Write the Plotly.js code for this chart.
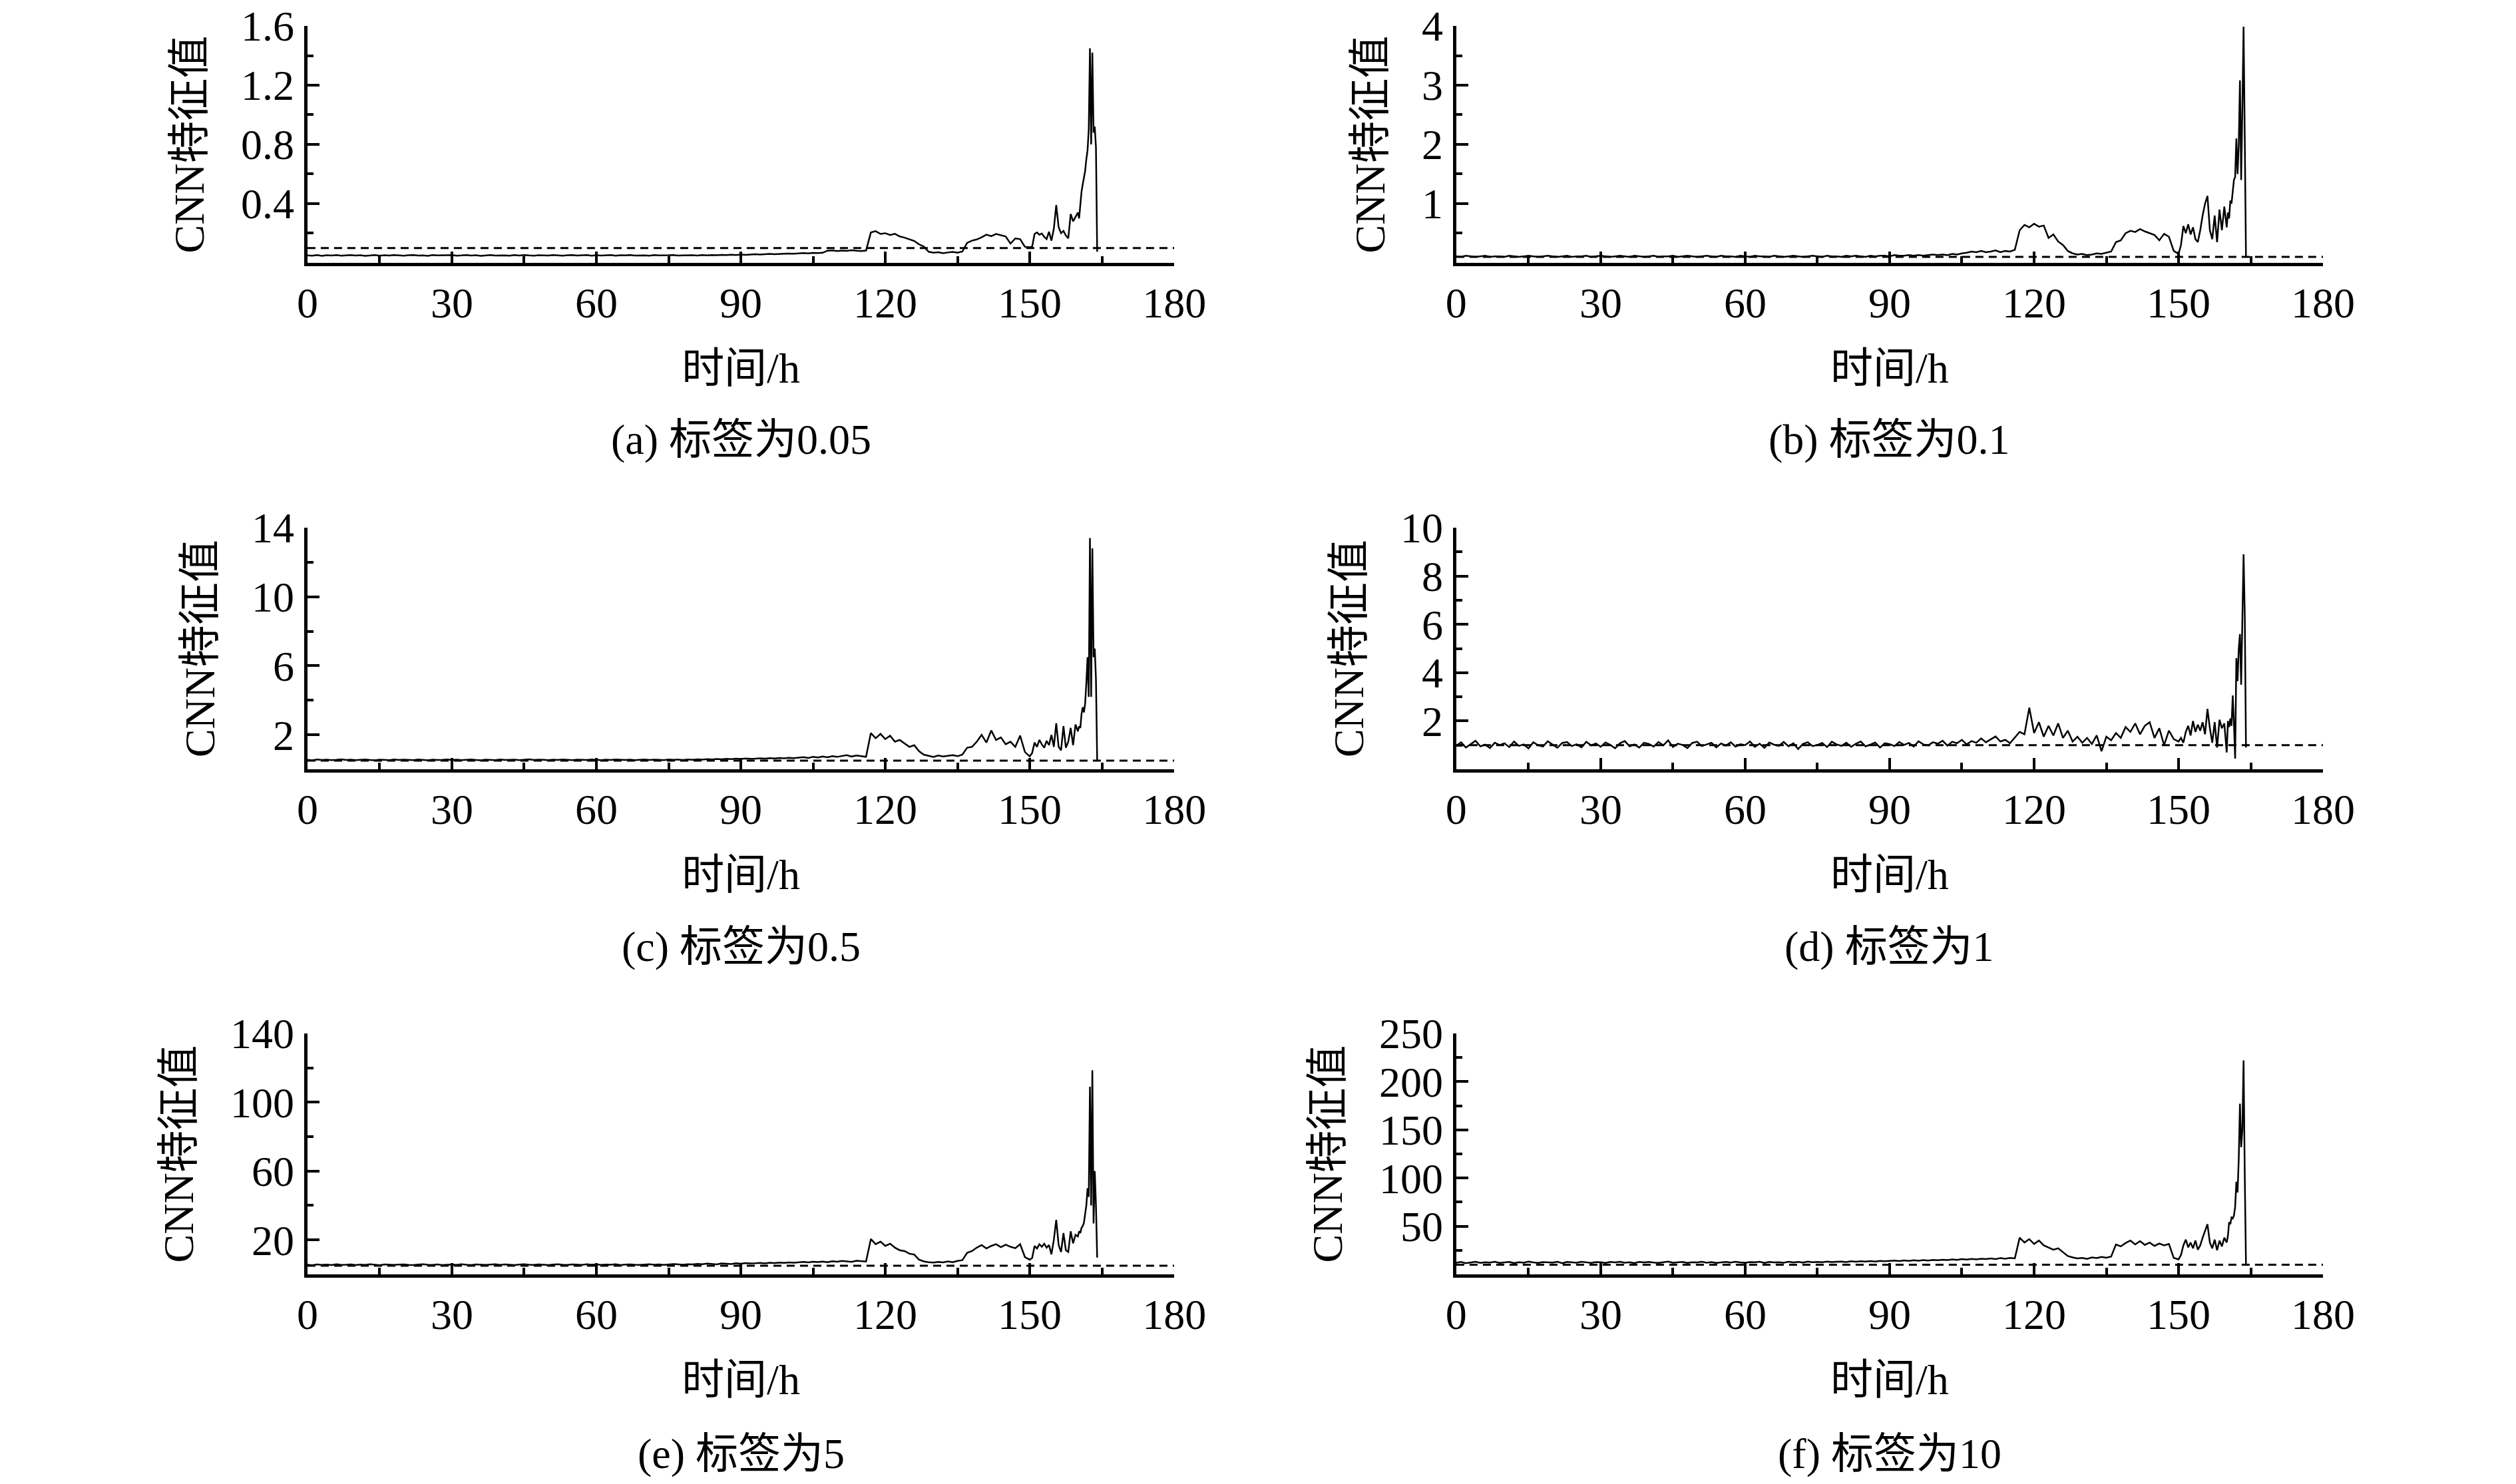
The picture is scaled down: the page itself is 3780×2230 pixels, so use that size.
<!DOCTYPE html>
<html>
<head>
<meta charset="utf-8">
<script src="https://cdn.plot.ly/plotly-3.0.1.min.js"></script>
<style>
  html, body { margin: 0; padding: 0; background: #fff; }
  #chart { width: 3780px; height: 2230px; }
</style>
</head>
<body>
<div id="chart"></div>
<script>
// ==========================================================
// DATA
// ==========================================================

// time axis, hours
const hours = [
  0,1,2,3,4,5,6,7,8,9,
  10,11,12,13,14,15,16,17,18,19,
  20,21,22,23,24,25,26,27,28,29,
  30,31,32,33,34,35,36,37,38,39,
  40,41,42,43,44,45,46,47,48,49,
  50,51,52,53,54,55,56,57,58,59,
  60,61,62,63,64,65,66,67,68,69,
  70,71,72,73,74,75,76,77,78,79,
  80,81,82,83,84,85,86,87,88,89,
  90,91,92,93,94,95,96,97,98,99,
  100,101,102,103,104,105,106,107,108,109,
  110,111,112,113,114,115,116,117,118,119,
  120,121,122,123,124,125,126,127,128,129,
  130,131,132,133,134,135,136,137,138,139,
  140,141,142,143,144,145,146,147,148,149,
  150,
  150.5,151,151.5,152,152.5,153,153.5,154,154.5,155,
  155.5,156,156.5,157,157.5,158,158.5,159,159.5,160,
  160.25,160.5,160.75,161,161.25,161.5,161.75,162,
  162.25,162.5,162.75,163,163.25,163.5,163.75,164
];

// (a) label 0.05
const featA = [
  0.050,0.048,0.052,0.047,0.051,0.049,0.053,0.048,0.050,0.052,
  0.049,0.051,0.047,0.050,0.053,0.048,0.051,0.049,0.052,0.050,
  0.048,0.051,0.053,0.049,0.050,0.047,0.052,0.050,0.049,0.051,
  0.052,0.048,0.050,0.053,0.049,0.051,0.047,0.050,0.052,0.049,
  0.051,0.050,0.048,0.052,0.049,0.053,0.050,0.048,0.051,0.050,
  0.049,0.052,0.050,0.048,0.051,0.053,0.049,0.050,0.052,0.048,
  0.051,0.049,0.050,0.053,0.048,0.051,0.050,0.052,0.049,0.051,
  0.050,0.048,0.052,0.050,0.049,0.051,0.053,0.049,0.050,0.052,
  0.051,0.049,0.052,0.050,0.053,0.051,0.054,0.052,0.055,0.053,
  0.056,0.054,0.057,0.058,0.056,0.059,0.060,0.058,0.061,0.062,
  0.063,0.061,0.064,0.066,0.064,0.067,0.066,0.068,0.082,0.084,
  0.080,0.083,0.081,0.085,0.082,0.080,0.083,0.205,0.214,0.195,
  0.200,0.188,0.196,0.178,0.170,0.160,0.148,0.125,0.110,0.075,
  0.068,0.072,0.065,0.070,0.074,0.068,0.076,0.135,0.150,0.158,
  0.172,0.190,0.180,0.195,0.185,0.178,0.130,0.165,0.160,0.108,
  0.105,
  0.110,0.195,0.205,0.190,0.198,0.175,0.160,0.210,0.150,0.230,
  0.390,0.240,0.200,0.215,0.185,0.165,0.330,0.280,0.310,0.340,
  0.300,0.410,0.480,0.530,0.580,0.620,0.700,0.760,
  0.900,1.450,0.800,1.420,0.880,0.920,0.780,0.075
];

// (b) label 0.1
const featB = [
  0.11,0.10,0.12,0.11,0.10,0.11,0.12,0.10,0.11,0.11,
  0.10,0.12,0.11,0.10,0.11,0.12,0.11,0.10,0.11,0.12,
  0.11,0.10,0.11,0.12,0.10,0.11,0.11,0.12,0.10,0.11,
  0.12,0.11,0.10,0.11,0.12,0.11,0.10,0.12,0.11,0.10,
  0.11,0.12,0.10,0.11,0.11,0.12,0.10,0.11,0.12,0.11,
  0.10,0.11,0.12,0.11,0.10,0.12,0.11,0.11,0.10,0.12,
  0.11,0.10,0.12,0.11,0.11,0.10,0.12,0.11,0.10,0.11,
  0.12,0.11,0.10,0.11,0.12,0.11,0.10,0.12,0.11,0.11,
  0.10,0.12,0.11,0.12,0.11,0.10,0.12,0.11,0.12,0.12,
  0.11,0.13,0.12,0.12,0.13,0.12,0.13,0.12,0.13,0.14,
  0.13,0.14,0.13,0.15,0.14,0.16,0.17,0.19,0.18,0.20,
  0.18,0.19,0.21,0.18,0.20,0.19,0.22,0.55,0.64,0.60,
  0.66,0.61,0.63,0.42,0.48,0.36,0.30,0.20,0.16,0.14,
  0.15,0.13,0.14,0.16,0.15,0.17,0.19,0.35,0.38,0.50,
  0.54,0.52,0.57,0.53,0.50,0.47,0.38,0.49,0.44,0.20,
  0.15,
  0.30,0.62,0.50,0.65,0.48,0.60,0.40,0.35,0.55,0.80,
  1.00,1.13,0.55,0.40,0.80,0.35,0.90,0.55,0.95,0.60,
  0.85,0.75,1.05,1.00,1.25,1.40,1.45,2.10,
  1.50,2.00,3.08,1.40,2.60,3.99,2.10,0.11
];

// (c) label 0.5
const featC = [
  0.55,0.52,0.57,0.54,0.56,0.53,0.55,0.58,0.54,0.56,
  0.53,0.55,0.57,0.54,0.52,0.56,0.55,0.53,0.57,0.54,
  0.56,0.54,0.53,0.57,0.55,0.52,0.56,0.54,0.55,0.57,
  0.54,0.56,0.53,0.55,0.57,0.54,0.52,0.56,0.55,0.53,
  0.57,0.54,0.55,0.56,0.53,0.55,0.58,0.54,0.56,0.55,
  0.53,0.56,0.54,0.57,0.55,0.53,0.56,0.55,0.54,0.57,
  0.55,0.53,0.56,0.54,0.57,0.55,0.54,0.56,0.53,0.55,
  0.57,0.54,0.56,0.55,0.53,0.57,0.55,0.56,0.54,0.57,
  0.55,0.58,0.56,0.59,0.57,0.60,0.58,0.61,0.59,0.62,
  0.60,0.63,0.61,0.62,0.64,0.62,0.65,0.63,0.66,0.64,
  0.67,0.65,0.68,0.70,0.66,0.72,0.69,0.74,0.70,0.76,
  0.72,0.78,0.82,0.74,0.80,0.76,0.72,2.10,1.80,2.05,
  1.75,1.95,1.60,1.70,1.50,1.30,1.40,1.05,0.85,0.78,
  0.72,0.80,0.74,0.78,0.82,0.76,0.85,1.25,1.30,1.60,
  2.00,1.55,2.25,1.70,1.85,1.45,1.60,1.30,1.95,1.00,
  0.75,
  0.95,1.55,1.30,1.70,1.45,1.25,1.65,1.40,2.00,1.30,
  2.67,1.30,1.10,2.50,1.25,1.60,2.40,1.40,2.60,2.20,
  2.50,2.40,3.20,3.60,3.30,3.80,5.00,6.50,
  4.20,13.40,4.20,12.80,6.50,7.00,5.20,0.49
];

// (d) label 1
const featD = [
  0.98,1.12,0.90,1.05,1.18,0.95,1.02,0.88,1.10,1.00,
  1.08,0.92,1.15,0.97,1.03,0.86,1.12,1.00,0.94,1.16,
  1.02,0.89,1.09,1.13,0.96,1.04,0.91,1.14,0.99,1.07,
  0.93,1.11,1.01,0.87,1.08,1.17,0.95,1.03,0.90,1.10,
  1.05,0.94,1.13,0.99,1.20,0.92,1.06,1.01,0.88,1.09,
  1.14,0.96,1.03,1.10,0.91,1.07,0.98,1.12,0.94,1.04,
  1.00,1.15,0.93,1.06,0.89,1.11,1.02,0.97,1.13,0.95,
  1.08,0.84,1.05,1.12,0.96,1.01,1.09,0.92,1.14,1.03,
  0.97,1.10,0.93,1.06,1.15,0.95,1.02,1.11,0.90,1.08,
  1.04,0.96,1.13,1.01,1.09,0.94,1.16,1.03,0.99,1.12,
  1.06,1.18,0.98,1.14,1.08,1.22,1.03,1.17,1.10,1.28,
  1.12,1.25,1.36,1.15,1.22,1.08,1.30,1.55,1.45,2.55,
  1.50,1.95,1.35,1.80,1.40,1.90,1.30,1.60,1.15,1.35,
  1.10,1.30,1.05,1.40,0.75,1.35,1.20,1.50,1.30,1.75,
  1.55,1.90,1.45,1.80,1.95,1.30,1.70,1.00,1.60,1.25,
  1.15,
  1.30,1.10,1.55,1.80,1.40,2.00,1.55,1.85,1.60,1.95,
  1.45,2.50,1.70,1.10,1.95,0.90,2.05,1.70,1.90,0.70,
  2.00,1.75,2.10,1.80,3.06,1.90,0.44,4.60,
  3.65,5.00,5.60,3.50,6.00,8.90,6.40,0.90
];

// (e) label 5
const featE = [
  5.6,5.3,5.8,5.5,5.7,5.4,5.9,5.5,5.6,5.8,
  5.4,5.7,5.5,5.9,5.6,5.3,5.8,5.6,5.5,5.7,
  5.8,5.5,5.4,5.7,5.9,5.6,5.5,5.8,5.4,5.6,
  5.7,5.5,5.9,5.6,5.4,5.8,5.6,5.5,5.7,5.9,
  5.5,5.8,5.6,5.4,5.7,5.9,5.6,5.5,5.8,5.6,
  5.4,5.7,5.9,5.6,5.5,5.8,5.7,5.5,5.9,5.6,
  5.8,5.5,5.7,5.6,5.9,5.4,5.7,5.8,5.6,5.5,
  5.7,5.9,5.6,5.8,5.5,5.7,6.0,5.8,5.6,5.9,
  5.8,6.1,5.9,6.2,6.0,5.8,6.3,6.1,6.0,6.4,
  6.2,6.5,6.3,6.4,6.6,6.3,6.7,6.5,6.8,6.6,
  6.9,6.7,7.0,7.2,6.9,7.3,7.1,7.4,7.0,7.6,
  7.3,7.8,7.5,7.2,7.9,7.6,7.4,20.5,17.5,19.0,
  16.5,17.8,15.5,14.0,13.5,12.0,11.5,8.5,7.5,7.0,
  6.8,7.2,6.9,7.5,7.0,7.8,8.2,12.5,13.5,15.5,
  17.0,15.0,16.5,17.5,15.8,17.2,16.0,15.2,17.5,10.0,
  8.5,
  9.5,16.5,15.0,17.5,16.0,17.8,15.5,17.0,11.6,20.0,
  31.6,17.0,13.0,24.0,14.0,13.0,25.0,18.0,23.0,22.0,
  25.0,24.0,27.0,28.0,30.0,34.8,40.0,50.0,
  45.0,109.0,40.0,118.6,29.6,60.0,40.0,9.7
];

// (f) label 10
const featF = [
  12.0,12.8,11.5,12.5,13.0,11.8,12.6,12.2,13.1,11.9,
  12.4,12.9,11.7,12.6,12.1,13.2,12.3,11.8,12.7,12.5,
  12.2,13.0,11.6,12.8,12.4,12.0,13.1,12.5,11.9,12.7,
  12.6,11.8,12.9,12.3,13.0,12.1,12.5,11.7,12.8,12.4,
  12.9,12.2,11.8,12.6,13.2,12.0,12.4,12.8,11.9,12.5,
  12.3,13.0,12.1,12.7,11.8,12.6,12.9,12.2,13.1,12.4,
  12.0,12.7,12.5,13.1,11.9,12.8,12.3,12.6,12.1,13.0,
  12.4,12.8,12.2,13.2,12.5,12.9,12.6,13.3,12.7,13.0,
  13.2,12.8,13.5,13.0,13.6,13.2,13.8,13.3,13.9,13.5,
  13.8,14.2,13.7,14.4,14.0,14.6,14.1,14.8,14.3,15.0,
  14.6,15.2,14.8,15.5,15.0,15.8,15.3,16.0,15.5,16.2,
  15.8,16.5,15.9,16.8,16.2,17.0,16.5,38.0,33.0,36.5,
  31.5,35.0,30.0,28.0,25.5,27.0,23.0,19.0,17.5,16.5,
  17.0,16.0,17.5,16.8,18.0,17.2,18.5,31.0,29.0,32.5,
  35.0,31.0,34.5,30.5,33.0,29.5,32.0,30.0,31.5,17.0,
  15.5,
  20.0,30.0,36.0,28.0,33.0,27.0,35.0,25.5,30.0,38.0,
  45.0,52.0,33.0,27.0,36.0,25.0,35.0,29.0,38.0,33.0,
  40.0,54.0,52.0,59.0,58.0,61.0,70.0,96.0,
  85.0,120.0,177.0,132.0,150.0,222.0,102.0,11.0
];

// dashed threshold lines
const thresholds = [0.1, 0.1, 0.5, 1, 5, 10];
const thresholdSpan = [0, 180];

const captions = [
  "(a) 标签为0.05", "(b) 标签为0.1",
  "(c) 标签为0.5",  "(d) 标签为1",
  "(e) 标签为5",    "(f) 标签为10"
];

const xTicks = [0, 30, 60, 90, 120, 150, 180];

const yTicks = [
  [0.4, 0.8, 1.2, 1.6],
  [1, 2, 3, 4],
  [2, 6, 10, 14],
  [2, 4, 6, 8, 10],
  [20, 60, 100, 140],
  [50, 100, 150, 200, 250]
];


// ==========================================================
// LAYOUT SETTINGS
// ==========================================================

const series = [featA, featB, featC, featD, featE, featF];
const yMax = [1.6, 4, 14, 10, 140, 250];
const yMinorStep = [0.2, 0.5, 2, 1, 20, 25];

const FONT = '"Liberation Serif", "Times New Roman", "Noto Sans CJK SC", serif';

const colDomains = [[0.1222, 0.4667], [0.5788, 0.9233]];
const rowDomains = [[0.8229, 0.9825], [0.4816, 0.6444], [0.1413, 0.3036]];
const captionY = [0.7036, 0.3623, 0.0206];


// ==========================================================
// BUILD FIGURE
// ==========================================================

let traces = [];
let layout = {
  width: 3780,
  height: 2230,
  margin: { l: 0, r: 0, t: 0, b: 0 },
  paper_bgcolor: "#fff",
  plot_bgcolor: "#fff",
  showlegend: false,
  font: { family: FONT, size: 64, color: "#000" },
  annotations: []
};

series.forEach(function (values, i) {

  let row = Math.floor(i / 2);
  let col = i % 2;
  let suffix = i === 0 ? "" : String(i + 1);

  // curve
  traces.push({
    x: hours,
    y: values,
    xaxis: "x" + suffix,
    yaxis: "y" + suffix,
    type: "scatter",
    mode: "lines",
    line: { color: "#000", width: 2.5 },
    hoverinfo: "skip"
  });

  // threshold
  traces.push({
    x: thresholdSpan,
    y: [thresholds[i], thresholds[i]],
    xaxis: "x" + suffix,
    yaxis: "y" + suffix,
    type: "scatter",
    mode: "lines",
    line: { color: "#000", width: 3, dash: "12px,8px" },
    hoverinfo: "skip"
  });

  layout["xaxis" + suffix] = {
    domain: colDomains[col],
    anchor: "y" + suffix,
    range: [0, 180],
    tickmode: "array",
    tickvals: xTicks,
    ticks: "inside",
    ticklen: 17,
    tickwidth: 4,
    tickcolor: "#000",
    ticklabelstandoff: 0,
    ticklabeloverflow: "allow",
    minor: { dtick: 15, tick0: 0, ticks: "inside", ticklen: 10, tickwidth: 4, tickcolor: "#000" },
    showline: true,
    linewidth: 5,
    linecolor: "#000",
    showgrid: false,
    zeroline: false,
    tickfont: { family: FONT, size: 64 },
    title: { text: "时间/h", font: { family: FONT, size: 64 }, standoff: 42 }
  };

  layout["yaxis" + suffix] = {
    domain: rowDomains[row],
    anchor: "x" + suffix,
    range: [0, yMax[i]],
    tickmode: "array",
    tickvals: yTicks[i],
    ticks: "inside",
    ticklen: 18,
    tickwidth: 4,
    tickcolor: "#000",
    ticklabelstandoff: 2,
    ticklabeloverflow: "allow",
    minor: { dtick: yMinorStep[i], tick0: 0, ticks: "inside", ticklen: 9, tickwidth: 4, tickcolor: "#000" },
    showline: true,
    linewidth: 5,
    linecolor: "#000",
    showgrid: false,
    zeroline: false,
    tickfont: { family: FONT, size: 64 },
    title: { text: "CNN特征值", font: { family: FONT, size: 64 }, standoff: 36 }
  };

  // caption under each panel
  layout.annotations.push({
    text: captions[i],
    xref: "paper",
    yref: "paper",
    x: (colDomains[col][0] + colDomains[col][1]) / 2,
    y: captionY[row],
    xanchor: "center",
    yanchor: "middle",
    showarrow: false,
    font: { family: FONT, size: 64, color: "#000" }
  });

});

Plotly.newPlot("chart", traces, layout, { staticPlot: true, displayModeBar: false });
</script>
</body>
</html>
